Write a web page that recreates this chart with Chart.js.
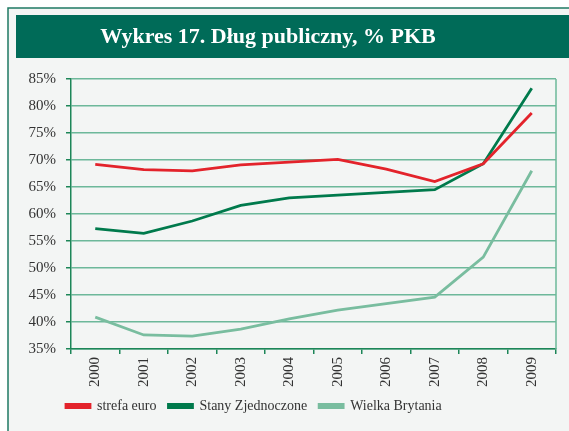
<!DOCTYPE html>
<html>
<head>
<meta charset="utf-8">
<script src="https://cdn.jsdelivr.net/npm/chart.js@4/dist/chart.umd.min.js"></script>
<style>
  html, body { margin: 0; padding: 0; background: #fff; }
  #wrap { width: 569px; height: 431px; }
</style>
</head>
<body>
<div id="wrap"><canvas id="chart-dlug" width="569" height="431"></canvas></div>
<script>
// dane (% PKB)
const YEARS = ['2000', '2001', '2002', '2003', '2004', '2005', '2006', '2007', '2008', '2009'];
const STREFA_EURO = [69.2, 68.2, 68.0, 69.1, 69.6, 70.1, 68.3, 66.0, 69.3, 78.7];
const USA = [57.3, 56.4, 58.7, 61.6, 63.0, 63.5, 64.0, 64.5, 69.3, 83.3];
const WIELKA_BRYTANIA = [40.9, 37.6, 37.4, 38.7, 40.6, 42.2, 43.4, 44.6, 52.0, 68.0];
const TITLE = 'Wykres 17. Dług publiczny, % PKB';

const SERIF = '"Liberation Serif", "DejaVu Serif", serif';
const GRID_COLOR = '#6db89a';
const AXIS_COLOR = '#1d8658';

// tlo, ramka i pasek z tytulem
const framePlugin = {
    id: 'frame',
    afterLayout(chart) {
        // legenda zaczyna sie pod osia Y, jak w oryginale
        const shift = 54;
        chart.legend.left += shift;
        chart.legend.right += shift;
    },
    beforeDraw(chart) {
        const ctx = chart.ctx;
        ctx.save();
        ctx.fillStyle = '#ffffff';
        ctx.fillRect(0, 0, chart.width, chart.height);
        ctx.fillStyle = '#f3f5f4';
        ctx.fillRect(8, 8, chart.width, chart.height);
        ctx.strokeStyle = '#1f7a63';
        ctx.lineWidth = 1.5;
        ctx.beginPath();
        ctx.moveTo(8, chart.height);
        ctx.lineTo(8, 8);
        ctx.lineTo(chart.width, 8);
        ctx.stroke();
        ctx.fillStyle = '#006b58';
        ctx.fillRect(16, 15, chart.width, 43);
        ctx.fillStyle = '#ffffff';
        ctx.font = 'bold 22px ' + SERIF;
        ctx.textAlign = 'center';
        ctx.textBaseline = 'middle';
        ctx.fillText(TITLE, 268, 37);
        ctx.restore();
    },
    afterDatasetsDraw(chart) {
        // prawa krawedz obszaru wykresu
        const a = chart.chartArea;
        const ctx = chart.ctx;
        ctx.save();
        ctx.strokeStyle = GRID_COLOR;
        ctx.lineWidth = 1.5;
        ctx.beginPath();
        ctx.moveTo(a.right, a.top);
        ctx.lineTo(a.right, a.bottom);
        ctx.stroke();
        ctx.restore();
    }
};

var domChart = document.getElementById('chart-dlug');
new Chart(domChart, {
    type: 'line',
    data: {
        labels: YEARS,
        datasets: [
            {
                label: 'strefa euro',
                borderColor: '#e3232b',
                backgroundColor: '#e3232b',
                data: STREFA_EURO
            },
            {
                label: 'Stany Zjednoczone',
                borderColor: '#007a4c',
                backgroundColor: '#007a4c',
                data: USA
            },
            {
                label: 'Wielka Brytania',
                borderColor: '#79bd9f',
                backgroundColor: '#79bd9f',
                data: WIELKA_BRYTANIA
            }
        ]
    },
    options: {
        responsive: false,
        animation: false,
        devicePixelRatio: 1,
        elements: {
            line: { borderWidth: 2.8, tension: 0, fill: false },
            point: { radius: 0, hoverRadius: 0 }
        },
        layout: {
            padding: { left: 0, right: 13, top: 79, bottom: 8 }
        },
        scales: {
            x: {
                offset: true,
                afterFit(scale) { scale.height = 38; },
                grid: {
                    offset: true,
                    drawOnChartArea: false,
                    drawTicks: true,
                    tickLength: 5,
                    tickColor: AXIS_COLOR,
                    lineWidth: 1.5
                },
                border: { color: AXIS_COLOR, width: 1.5 },
                ticks: {
                    minRotation: 90,
                    maxRotation: 90,
                    padding: 3,
                    color: '#333333',
                    font: { family: SERIF, size: 15 }
                }
            },
            y: {
                min: 35,
                max: 85,
                afterFit(scale) { scale.width = 71; },
                grid: {
                    color: GRID_COLOR,
                    lineWidth: 1.5,
                    tickLength: 5,
                    tickColor: AXIS_COLOR
                },
                border: { color: AXIS_COLOR, width: 1.5 },
                ticks: {
                    stepSize: 5,
                    padding: 10,
                    color: '#333333',
                    font: { family: SERIF, size: 15 },
                    callback: function(v) { return v + '%'; }
                }
            }
        },
        plugins: {
            title: { display: false },
            tooltip: { enabled: false },
            legend: {
                position: 'bottom',
                align: 'start',
                labels: {
                    boxWidth: 24,
                    boxHeight: 3,
                    padding: 12,
                    color: '#333333',
                    font: { family: SERIF, size: 14 }
                }
            }
        }
    },
    plugins: [framePlugin]
});
</script>
</body>
</html>
